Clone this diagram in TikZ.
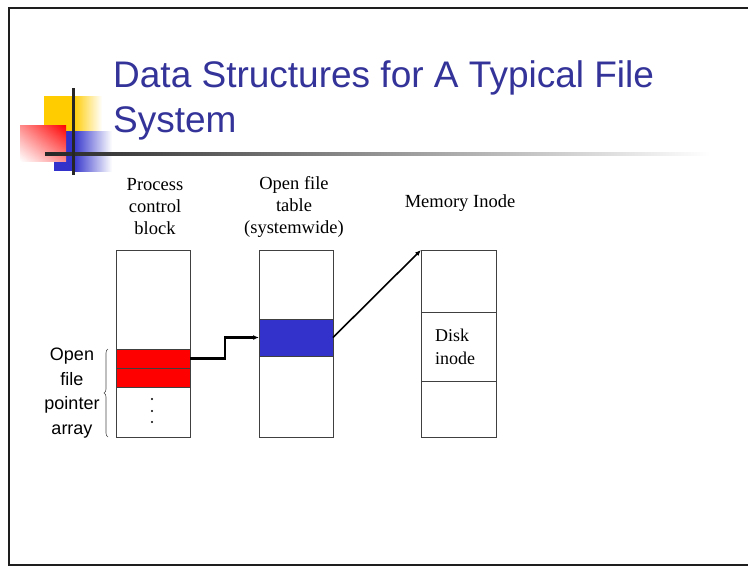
\documentclass[tikz,border=0pt]{standalone}
\usepackage{fontspec}
\setmainfont{Liberation Serif}
\setsansfont{Liberation Sans}
\usetikzlibrary{arrows.meta,decorations.pathreplacing,shadings}
\definecolor{titleblue}{HTML}{333399}
\definecolor{fillblue}{HTML}{3333CC}
\definecolor{decoyellow}{HTML}{FFCC00}
\definecolor{decoblue}{HTML}{3333CC}
\definecolor{framegray}{HTML}{1E1E1E}
\tikzset{
  cell/.style={draw=black!75, line width=0.8pt, rectangle, inner sep=0pt, outer sep=0pt},
  hdr/.style={font=\fontsize{18.5}{22}\selectfont, align=center, inner sep=0pt},
  side/.style={font=\sffamily\fontsize{18}{24.7}\selectfont, align=center, inner sep=0pt},
  link/.style={line width=2.2pt, -{Latex[length=6pt,width=5pt]}},
  thinlink/.style={line width=1.6pt, -{Latex[length=6pt,width=5pt]}},
}
\begin{document}
\begin{tikzpicture}[x=1pt,y=-1pt]
\useasboundingbox (0,0) rectangle (748,566);
\fill[white] (0,0) rectangle (748,566);
\clip (0,0) rectangle (748,566);

% slide frame
\draw[framegray, line width=2.4pt] (9,8) rectangle (780,565);

% corner decoration
\fill[decoyellow] (44,96) rectangle (73,131);
\shade[left color=decoyellow, right color=white] (73,96) rectangle (102,131);
\fill[decoblue] (54,131) rectangle (73,171);
\shade[left color=decoblue, right color=white] (73,131) rectangle (112,171);
\shade[upper left=red!45!white, upper right=red, lower left=white, lower right=red!45!white] (20,125) rectangle (66,161);
\shade[left color=black!85, right color=white] (45,152.5) rectangle (710,155.5);
\fill[black!85] (71.5,88) rectangle (74.5,175);

% title (base anchor sits on the last line)
\node[anchor=base west, inner sep=0pt, align=left, text=titleblue,
      font=\sffamily\fontsize{37}{45}\selectfont] (title) at (113,132)
  {Data Structures for A Typical File\\System};

% column headings
\node[hdr] (hpcb) at (155,207) {Process\\control\\block};
\node[hdr] (hoft) at (294,207) {Open file\\table\\(systemwide)};
\node[hdr] (hmin) at (460,203) {Memory Inode};

% process control block
\node[cell, minimum width=74pt, minimum height=187pt] (pcb) at (153,343.5) {};
\node[cell, fill=red, minimum width=74pt, minimum height=19pt] (r1) at (153,358.5) {};
\node[cell, fill=red, minimum width=74pt, minimum height=19pt] (r2) at (153,377.5) {};
\fill (152,399) circle (1.2) (152,411) circle (1.2) (152,422) circle (1.2);

% open file table
\node[cell, minimum width=74pt, minimum height=187pt] (oft) at (296,343.5) {};
\node[cell, fill=fillblue, minimum width=74pt, minimum height=37pt] (entry) at (296,337.5) {};

% memory inode
\node[cell, minimum width=75pt, minimum height=187pt] (minode) at (458.5,343.5) {};
\node[cell, minimum width=75pt, minimum height=69pt] (dinode) at (458.5,346.5) {};
\node[anchor=west, inner sep=0pt, align=left, font=\fontsize{18}{23}\selectfont] (dtext) at (435,347) {Disk\\inode};

% pointer array label and brace
\node[side] (ptr) at (72,393) {Open\\file\\pointer\\array};
\draw[black!70, line width=0.6pt, decorate, decoration={brace, amplitude=4pt}]
  (108,437) -- (108,349);

% connectors
\draw[link] (r1.east) -- ++(35,0) |- (entry.west);
\draw[thinlink] (entry.east) -- (minode.north west);
\end{tikzpicture}
\end{document}
